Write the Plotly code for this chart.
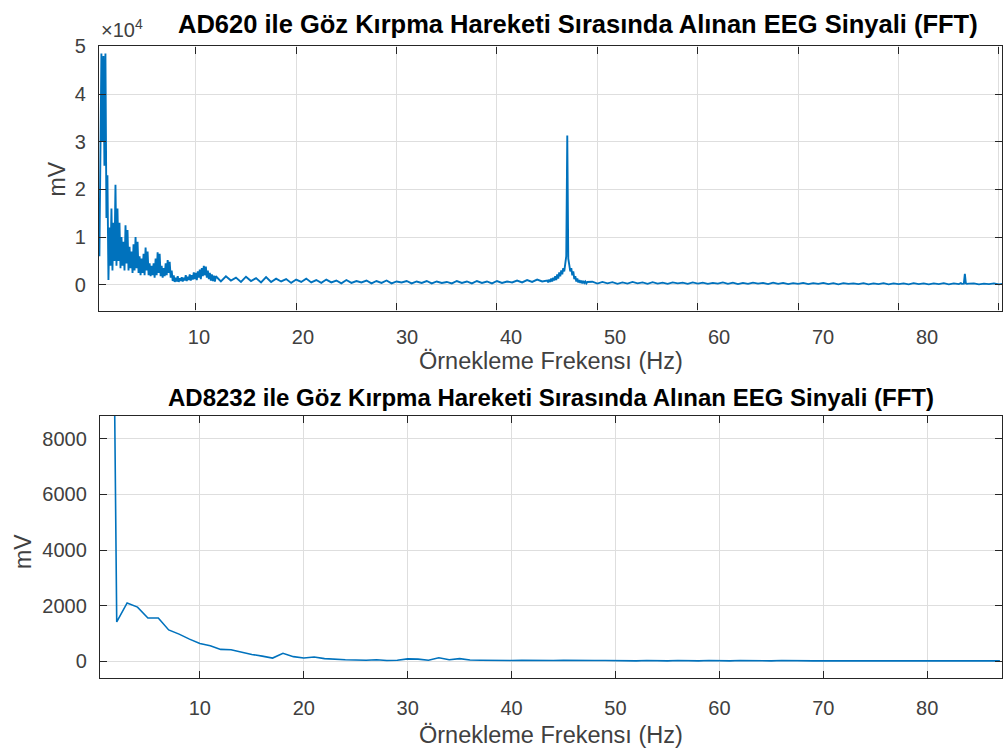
import numpy as np
import plotly.graph_objects as go

W, H = 1003, 751
BLUE = "#0072BD"
FONT = "Liberation Sans, Arial, Helvetica, sans-serif"

# ---------------- Top: AD620 spectrum (mV) ----------------
# piecewise regular FFT frequency grids: (start Hz, step Hz, amplitudes)
top_a_start, top_a_step = 0.4, 0.1
top_a_vals = [
    6000, 36000, 48500, 30000, 48000, 25000, 48500, 14000, 23000, 1000,
    12000, 4000, 16000, 3000, 13000, 5000, 21000, 4000, 16000, 5000,
    13000, 3500, 10000, 4000, 9000, 3000, 12500, 4500, 11500, 3000,
    8000, 3500, 7000, 2500, 8500, 3000, 10000, 3500, 9000, 2500,
    6000, 2000, 5500, 2500, 6500, 2000, 7800, 3000, 7000, 2000,
    4500, 1800, 4000, 2000, 4500, 1500, 5500, 2000, 6800, 2500,
    6500, 1800, 4000, 1500, 3500, 1800, 4500, 2000, 5200, 2500,
    4800, 1500, 3000, 800, 2000, 600, 1500, 700, 1800, 600,
    1400, 800, 1600, 700, 1500, 900, 2000, 800, 1700, 1000,
    2200, 900, 2000, 1100, 2600, 1200, 2500, 1000, 2800, 1500,
    3200, 1200, 3500, 1800, 4000, 2000, 3800, 1500, 3000, 1200,
    2500, 900, 2200, 800, 1900, 700, 1800,
]
top_b_start, top_b_step = 12.5, 0.5
top_b_vals = [
    700, 1800, 900, 1500, 600, 1700, 800, 1400, 500, 1600,
    600, 1300, 700, 1200, 400, 1100, 600, 1300, 500, 1000,
    400, 1100, 500, 900, 300, 1000, 400, 800, 500, 900,
    300, 800, 400, 900, 300, 700, 500, 800, 300, 700,
    400, 800, 300, 700, 400, 600, 300, 800, 400, 700,
    300, 800, 400, 700, 300, 800, 400, 700, 500, 900,
    500, 1000, 600, 1100, 700,
]
top_c_start, top_c_step = 45.0, 0.1
top_c_vals = [
    900, 500, 1100, 600, 1300, 700, 1500, 900, 1800, 1000,
    2200, 1300, 2600, 1800, 3000, 2200, 3500, 2800, 4500, 6000,
    31300, 5500, 4200, 2800, 3500, 2000, 2800, 1200, 1800, 700,
    1300, 500, 1000, 400, 900, 300, 800, 400, 700, 300,
    600,
]
top_d_start, top_d_step = 49.5, 0.5
top_d_vals = [
    650, 250, 600, 300, 550, 200, 500, 250, 600, 300,
    500, 200, 550, 250, 450, 200, 500, 300, 450, 200,
    500, 250, 450, 200, 400, 250, 500, 200, 450, 150,
    400, 200, 450, 250, 400, 150, 450, 200, 400, 150,
    350, 200, 400, 150, 350, 200, 400, 150, 350, 100,
    350, 200, 300, 150, 350, 100, 300, 150, 350, 100,
    300, 150, 300, 100, 350, 150, 300, 100, 300, 150,
    350, 100, 300, 150,
]
top_e_start, top_e_step = 86.1, 0.1
top_e_vals = [250, 350, 200, 300, 250, 2300, 300, 200, 300, 250]
top_f_start, top_f_step = 87.5, 0.5
top_f_vals = [300, 100, 250, 150, 300, 100, 250]

top_segments = [
    (top_a_start, top_a_step, top_a_vals),
    (top_b_start, top_b_step, top_b_vals),
    (top_c_start, top_c_step, top_c_vals),
    (top_d_start, top_d_step, top_d_vals),
    (top_e_start, top_e_step, top_e_vals),
    (top_f_start, top_f_step, top_f_vals),
]
top_freq, top_amp = [], []
for s, st, vals in top_segments:
    top_freq.extend(np.round(s + st * np.arange(len(vals)), 3).tolist())
    top_amp.extend(vals)

# ---------------- Bottom: AD8232 spectrum (mV) ----------------
bot_freq = list(range(1, 88))
bot_amp = [
    40000, 1420, 2100, 1950, 1560, 1560, 1130, 980, 800, 640,
    560, 430, 420, 330, 250, 190, 120, 290, 170, 120,
    160, 100, 70, 60, 50, 40, 60, 30, 40, 90,
    80, 40, 130, 60, 100, 50, 40, 30, 40, 30,
    40, 30, 20, 30, 40, 30, 20, 30, 30, 20,
    30, 20, 30, 20, 20, 30, 20, 20, 30, 20,
    20, 30, 20, 20, 20, 30, 20, 20, 20, 20,
    20, 20, 30, 20, 20, 20, 20, 30, 20, 20,
    20, 20, 20, 20, 30, 20, 20,
]

top_title = "AD620 ile Göz Kırpma Hareketi Sırasında Alınan EEG Sinyali (FFT)"
bot_title = "AD8232 ile Göz Kırpma Hareketi Sırasında Alınan EEG Sinyali (FFT)"
x_title = "Örnekleme Frekensı (Hz)"
y_title = "mV"
x_ticks = [10, 20, 30, 40, 50, 60, 70, 80, 90]
top_y_ticks = [0, 10000, 20000, 30000, 40000, 50000]
top_y_text = ["0", "1", "2", "3", "4", "5"]
bot_y_ticks = [0, 2000, 4000, 6000, 8000]

fig = go.Figure()
fig.add_trace(go.Scatter(x=top_freq, y=top_amp, mode="lines",
                         line=dict(color=BLUE, width=1.9),
                         xaxis="x", yaxis="y", showlegend=False, hoverinfo="skip"))
fig.add_trace(go.Scatter(x=[], y=[], mode="lines", xaxis="x3", yaxis="y",
                         showlegend=False, hoverinfo="skip"))
fig.add_trace(go.Scatter(x=bot_freq, y=bot_amp, mode="lines",
                         line=dict(color=BLUE, width=1.6),
                         xaxis="x2", yaxis="y2", showlegend=False, hoverinfo="skip"))

def px_x(p):
    return p / W

def px_y(p):
    return 1 - p / H

AX = "#262626"
GRID = "#dedede"
TICKFONT = dict(family=FONT, size=20, color="#404040")

common_x = dict(showline=True, linecolor=AX, linewidth=1.2, mirror="ticks",
                ticks="inside", ticklen=7, tickcolor=AX, tickwidth=1.2,
                showgrid=True, gridcolor=GRID, gridwidth=1, zeroline=False,
                tickfont=TICKFONT)
common_y = dict(showline=True, linecolor=AX, linewidth=1.2, mirror="ticks",
                ticks="inside", ticklen=7, tickcolor=AX, tickwidth=1.2,
                showgrid=True, gridcolor=GRID, gridwidth=1, zeroline=False,
                tickfont=TICKFONT, ticklabelstandoff=8)

fig.update_layout(
    width=W, height=H, margin=dict(l=0, r=0, t=0, b=0),
    paper_bgcolor="white", plot_bgcolor="white",
    font=dict(family=FONT),
    xaxis=dict(domain=[px_x(99), 1.0], range=[0.35, 90.3], anchor="y",
               tickvals=x_ticks, showticklabels=False, **common_x),
    xaxis3=dict(domain=[px_x(99), 1.0], range=[0.38, 87.2], anchor="y",
                overlaying="x", side="bottom", tickvals=x_ticks[:-1],
                showline=False, ticks="", showgrid=False, zeroline=False,
                tickfont=TICKFONT, ticklabelstandoff=12),
    yaxis=dict(domain=[px_y(304), px_y(36)], range=[-5400, 50000], anchor="x",
               tickvals=top_y_ticks, ticktext=top_y_text, **common_y),
    xaxis2=dict(domain=[px_x(100), 1.0], range=[0.38, 87.2], anchor="y2",
                tickvals=x_ticks[:-1], ticklabelstandoff=12, **common_x),
    yaxis2=dict(domain=[px_y(677), px_y(411)], range=[-600, 8820], anchor="x2",
                tickvals=bot_y_ticks, **common_y),
)

ann = []
ann.append(dict(text=f"<b>{top_title}</b>", x=px_x(579), y=px_y(13), xref="paper", yref="paper",
                showarrow=False, xanchor="center", yanchor="middle",
                font=dict(family=FONT, size=25.5, color="black")))
ann.append(dict(text=f"<b>{bot_title}</b>", x=px_x(552), y=px_y(392), xref="paper", yref="paper",
                showarrow=False, xanchor="center", yanchor="middle",
                font=dict(family=FONT, size=24, color="black")))
for yc in (355, 735):
    ann.append(dict(text=x_title, x=px_x(552), y=px_y(yc), xref="paper", yref="paper",
                    showarrow=False, xanchor="center", yanchor="middle",
                    font=dict(family=FONT, size=23.5, color="#404040")))
ann.append(dict(text=y_title, x=px_x(57), y=px_y(170), xref="paper", yref="paper",
                showarrow=False, xanchor="center", yanchor="middle", textangle=-90,
                font=dict(family=FONT, size=23, color="#404040")))
ann.append(dict(text=y_title, x=px_x(23), y=px_y(548), xref="paper", yref="paper",
                showarrow=False, xanchor="center", yanchor="middle", textangle=-90,
                font=dict(family=FONT, size=23, color="#404040")))
ann.append(dict(text="×10<sup>4</sup>", x=px_x(99), y=px_y(18), xref="paper", yref="paper",
                showarrow=False, xanchor="left", yanchor="middle",
                font=dict(family=FONT, size=20, color="#404040")))
fig.update_layout(annotations=ann)

fig.write_html("out.html")
